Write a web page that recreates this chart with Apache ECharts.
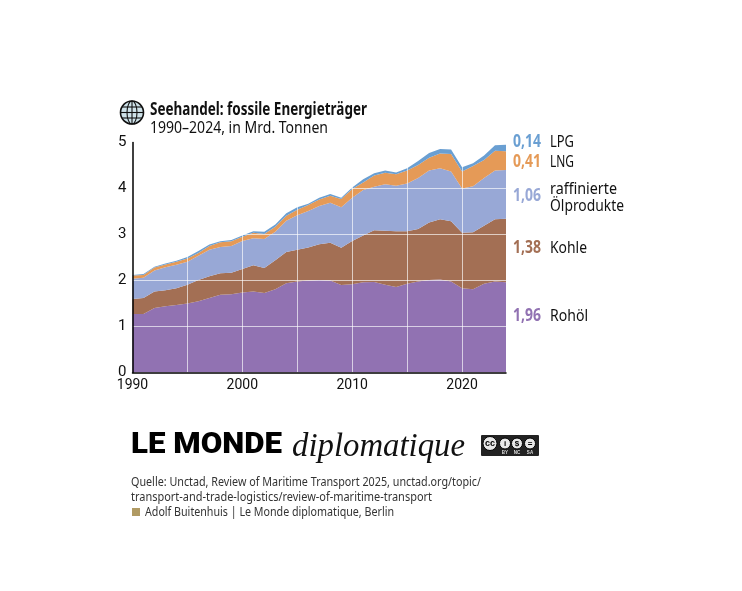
<!DOCTYPE html>
<html><head><meta charset="utf-8">
<style>html,body{margin:0;padding:0;background:#fff}#c{width:742px;height:591px}</style>
<script src="https://cdn.jsdelivr.net/npm/echarts@6/dist/echarts.min.js"></script>
</head><body><div id="c"></div>
<script>
const years = Array.from({length:35},(_,i)=>String(1990+i));
const rohoel = [1.27,1.27,1.40,1.44,1.47,1.50,1.55,1.62,1.69,1.70,1.74,1.76,1.73,1.81,1.94,1.98,2.00,2.01,2.00,1.90,1.92,1.96,1.97,1.91,1.86,1.93,1.98,2.01,2.02,1.98,1.83,1.81,1.93,1.98,1.96];
const kohle = [.33,.35,.36,.35,.36,.41,.46,.47,.47,.47,.51,.57,.54,.63,.68,.69,.72,.78,.82,.81,.94,1.02,1.12,1.17,1.21,1.14,1.14,1.25,1.31,1.31,1.21,1.24,1.26,1.35,1.38];
const produkte = [.44,.44,.46,.50,.51,.50,.53,.58,.57,.58,.61,.59,.63,.62,.68,.75,.79,.83,.87,.88,.94,.99,.95,1.01,.99,1.04,1.11,1.13,1.11,1.08,.96,1.00,1.04,1.06,1.06];
const lng = [.07,.06,.06,.06,.07,.07,.06,.08,.10,.105,.09,.12,.11,.11,.11,.12,.13,.14,.15,.18,.19,.16,.24,.25,.25,.28,.28,.28,.32,.38,.37,.44,.39,.43,.41];
const lpg = [.01,.02,.02,.02,.02,.03,.04,.03,.025,.025,.03,.03,.05,.05,.05,.05,.03,.04,.04,.03,.03,.07,.05,.05,.04,.05,.09,.10,.10,.10,.09,.06,.10,.12,.14];
const seriesNames = ['Rohöl','Kohle','raffinierte Ölprodukte','LNG','LPG'];
const colors = ['#9172b2','#a36f54','#98a8d6','#e59a57','#6a9fd2'];

const FONT = '"Noto Sans",sans-serif';
const mc = document.createElement('canvas').getContext('2d');
function txt(s,x,yc,size,weight,color,font,width,style){
  font = font||FONT; style = style||'normal';
  mc.font = `${style} ${weight} ${size}px ${font}`;
  const w = mc.measureText(s).width;
  return {type:'text',x:x,y:yc,scaleX:width?width/w:1,originX:0,originY:0,z:20,silent:true,
    style:{text:s,x:0,y:0,fill:color,fontSize:size,fontWeight:weight,fontFamily:font,fontStyle:style,
    align:'left',verticalAlign:'middle'}};
}
const ink='#111';
const g=[];
const gx=132,gy=112.5,gr=11.5;
g.push({type:'circle',shape:{cx:gx,cy:gy,r:gr},style:{fill:'#cfe3ea',stroke:ink,lineWidth:1.6},z:20});
g.push({type:'ellipse',shape:{cx:gx,cy:gy,rx:5,ry:gr},style:{fill:'none',stroke:ink,lineWidth:1.1},z:20});
[[gx-gr,gy,gx+gr,gy],[gx,gy-gr,gx,gy+gr],[gx-9.8,gy-5.5,gx+9.8,gy-5.5],[gx-9.8,gy+5.5,gx+9.8,gy+5.5]].forEach(l=>
  g.push({type:'line',shape:{x1:l[0],y1:l[1],x2:l[2],y2:l[3]},style:{stroke:ink,lineWidth:1.1},z:20}));
g.push(txt('Seehandel: fossile Energieträger',150,110,17,'bold',ink,FONT,217));
g.push(txt('1990–2024, in Mrd. Tonnen',150,128,16,'normal',ink,FONT,178));
[['0,14',142,colors[4]],['0,41',162,colors[3]],['1,06',196,colors[2]],['1,38',248,colors[1]],['1,96',316,colors[0]]]
 .forEach(v=>g.push(txt(v[0],513,v[1],17,'bold',v[2],FONT,28)));
[['LPG',142,24],['LNG',162,24],['raffinierte',189.5,67],['Ölprodukte',206,74],['Kohle',248,37],['Rohöl',316,38]]
 .forEach(v=>g.push(txt(v[0],550,v[1],16,'normal',ink,FONT,v[2])));
g.push(txt('LE MONDE',131,445.5,30,900,'#000','"Roboto","Noto Sans",sans-serif',151));
g.push(txt('diplomatique',292,447,33,'normal','#111','"Liberation Serif",serif',173,'italic'));
g.push({type:'rect',shape:{x:481,y:435,width:58,height:21,r:1},style:{fill:'#222'},z:20});
[[490,'cc'],[505,'i'],[517,'$'],[530,'='] ].forEach(c=>{
  g.push({type:'circle',shape:{cx:c[0],cy:443.5,r:c[0]===490?7:5.5},style:{fill:'#e8e8e8',stroke:'#000',lineWidth:1},z:21});
  g.push({type:'text',x:c[0],y:443.5,z:22,silent:true,style:{text:c[1],fill:'#000',fontSize:c[0]===490?9:8,fontWeight:'bold',fontFamily:'"Liberation Sans",sans-serif',align:'center',verticalAlign:'middle'}});
});
[[505,'BY'],[517,'NC'],[530,'SA']].forEach(c=>g.push({type:'text',x:c[0],y:452.5,z:22,silent:true,style:{text:c[1],fill:'#ddd',fontSize:4.5,fontWeight:'bold',fontFamily:'"Liberation Sans",sans-serif',align:'center',verticalAlign:'middle'}}));
g.push(txt('Quelle: Unctad, Review of Maritime Transport 2025, unctad.org/topic/',131,482,13,'normal','#333',FONT,350));
g.push(txt('transport-and-trade-logistics/review-of-maritime-transport',131,497,13,'normal','#333',FONT,301));
g.push({type:'rect',shape:{x:132,y:508,width:8,height:8},style:{fill:'#b09a63'},z:20});
g.push(txt('Adolf Buitenhuis | Le Monde diplomatique, Berlin',145,512.5,13,'normal','#333',FONT,249));

const data=[rohoel,kohle,produkte,lng,lpg];
const chart=echarts.init(document.getElementById('c'),null,{renderer:'canvas'});
chart.setOption({
  animation:false,
  backgroundColor:'#fff',
  grid:{left:132.5,right:236,top:142.5,height:230},
  xAxis:{type:'category',data:years,boundaryGap:false,z:5,
    axisLine:{show:true,lineStyle:{color:'#000',width:1.5}},
    axisTick:{show:false},
    axisLabel:{interval:i=>(+years[i])%10===0,color:ink,fontSize:14,fontFamily:'Roboto',margin:6},
    splitLine:{show:true,interval:i=>i>0&&(+years[i])%5===0,lineStyle:{color:'rgba(255,255,255,0.65)',width:1}}},
  yAxis:{type:'value',min:0,max:5,interval:1,z:5,
    axisLine:{show:true,lineStyle:{color:'#000',width:1.5}},
    axisTick:{show:false},
    axisLabel:{color:ink,fontSize:15,fontFamily:'Roboto',margin:6},
    splitLine:{show:true,lineStyle:{color:'rgba(255,255,255,0.65)',width:1}}},
  series:data.map((d,i)=>({name:seriesNames[i],type:'line',stack:'t',data:d,symbol:'none',smooth:false,
    lineStyle:{width:0},areaStyle:{color:colors[i],opacity:1},itemStyle:{color:colors[i]}})),
  graphic:g
});
</script></body></html>
